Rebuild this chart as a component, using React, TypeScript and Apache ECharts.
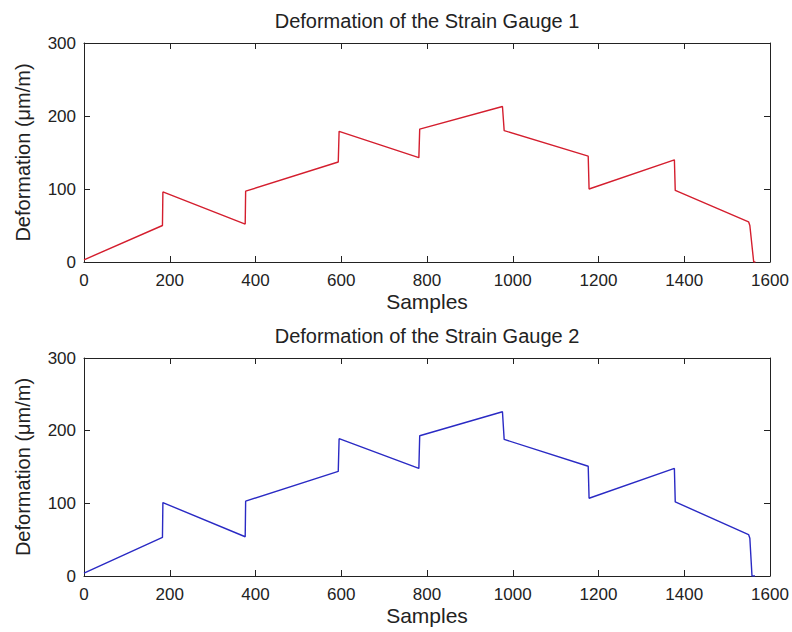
import React, { useEffect, useRef } from "react";
import * as echarts from "echarts";

// Gauge 1 (red) breakpoints: sample index and deformation (µm/m)
const gauge1Samples = [0, 183, 184, 376, 377, 593, 595, 781, 783, 976, 980, 1176, 1178, 1377, 1379, 1550, 1553, 1562, 1566];
const gauge1Values = [3, 50, 96, 52, 97, 137, 179, 143, 182, 213, 180, 145, 100, 140, 98, 55, 50, 0, 0];

// Gauge 2 (blue) breakpoints
const gauge2Samples = [0, 183, 184, 376, 377, 593, 595, 781, 783, 976, 980, 1176, 1178, 1377, 1379, 1550, 1553, 1558, 1565];
const gauge2Values = [4, 53, 101, 54, 103, 144, 189, 148, 193, 226, 188, 151, 107, 148, 102, 57, 52, 0, 0];

const titles = ["Deformation of the Strain Gauge 1", "Deformation of the Strain Gauge 2"];
const xLabel = "Samples";
const yLabel = "Deformation (\u03bcm/m)";

const FONT = "'Liberation Sans', Arial, Helvetica, sans-serif";
const AXIS_COLOR = "#222";

export default function App() {
  const ref = useRef<HTMLDivElement>(null);
  useEffect(() => {
    if (!ref.current) return;
    const chart = echarts.init(ref.current, undefined, { renderer: "svg" });

    const grids = [
      { left: 84, top: 43, width: 686, height: 219 },
      { left: 84, top: 358, width: 686, height: 218 },
    ];

    const tick = { show: true, inside: true, length: 6, lineStyle: { color: AXIS_COLOR, width: 1 } };
    const line = { show: true, lineStyle: { color: AXIS_COLOR, width: 1 } };
    const label = { fontSize: 17, color: AXIS_COLOR, fontFamily: FONT, formatter: (v: number) => String(v) };

    const xAxis: any[] = [];
    const yAxis: any[] = [];
    grids.forEach((_, i) => {
      xAxis.push({
        type: "value", gridIndex: i, position: "bottom", min: 0, max: 1600, interval: 200,
        axisLine: { ...line, onZero: false }, axisTick: tick, splitLine: { show: false },
        axisLabel: { ...label, margin: 10 },
      });
      xAxis.push({
        type: "value", gridIndex: i, position: "top", min: 0, max: 1600, interval: 200,
        axisLine: { ...line, onZero: false }, axisTick: tick, splitLine: { show: false },
        axisLabel: { show: false },
      });
      yAxis.push({
        type: "value", gridIndex: i, position: "left", min: 0, max: 300, interval: 100,
        axisLine: { ...line, onZero: false }, axisTick: tick, splitLine: { show: false },
        axisLabel: { ...label, margin: 8 },
      });
      yAxis.push({
        type: "value", gridIndex: i, position: "right", min: 0, max: 300, interval: 100,
        axisLine: { ...line, onZero: false }, axisTick: tick, splitLine: { show: false },
        axisLabel: { show: false },
      });
    });

    const graphic: any[] = [];
    grids.forEach((g, i) => {
      const cx = g.left + g.width / 2;
      graphic.push({
        type: "text", x: cx, y: g.top - 22,
        style: { text: titles[i], align: "center", verticalAlign: "middle", font: `20px ${FONT}`, fill: AXIS_COLOR },
      });
      graphic.push({
        type: "text", x: cx, y: g.top + g.height + 39,
        style: { text: xLabel, align: "center", verticalAlign: "middle", font: `21px ${FONT}`, fill: AXIS_COLOR },
      });
      graphic.push({
        type: "text", x: 23, y: g.top + g.height / 2, rotation: Math.PI / 2,
        style: { text: yLabel, align: "center", verticalAlign: "middle", font: `20px ${FONT}`, fill: AXIS_COLOR },
      });
    });

    chart.setOption({
      animation: false,
      backgroundColor: "#fff",
      grid: grids,
      xAxis,
      yAxis,
      graphic,
      series: [
        {
          type: "line", xAxisIndex: 0, yAxisIndex: 0, symbol: "none",
          data: gauge1Samples.map((x, i) => [x, gauge1Values[i]]),
          lineStyle: { color: "#d41e2e", width: 1.4 },
        },
        {
          type: "line", xAxisIndex: 2, yAxisIndex: 2, symbol: "none",
          data: gauge2Samples.map((x, i) => [x, gauge2Values[i]]),
          lineStyle: { color: "#2a2ac4", width: 1.4 },
        },
      ],
    });
    return () => chart.dispose();
  }, []);
  return <div ref={ref} style={{ position: "fixed", left: 0, top: 0, width: 792, height: 632 }} />;
}
